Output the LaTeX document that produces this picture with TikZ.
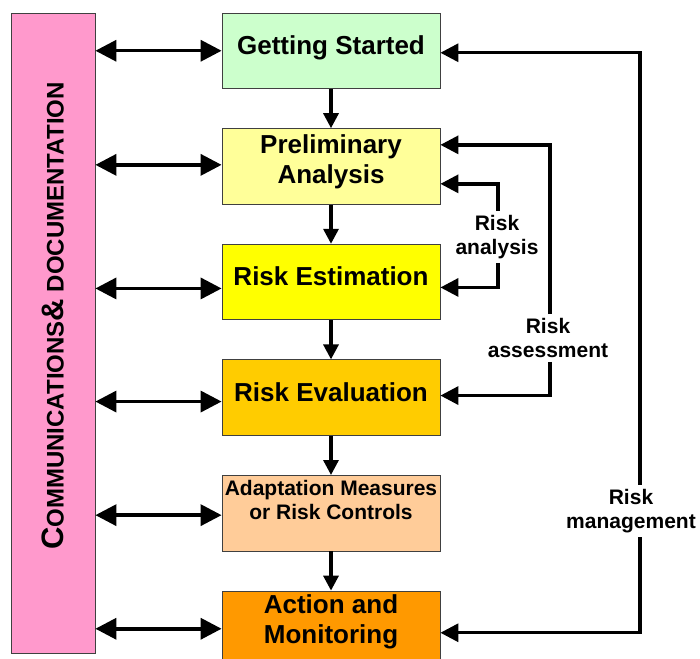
\documentclass[tikz,border=0pt]{standalone}
\usepackage{fontspec}
\setmainfont{Liberation Sans}
\usetikzlibrary{arrows.meta, positioning}

\definecolor{commpink}{HTML}{FF99CC}
\definecolor{startgreen}{HTML}{CCFFCC}
\definecolor{prelimyellow}{HTML}{FFFF99}
\definecolor{estyellow}{HTML}{FFFF00}
\definecolor{evalgold}{HTML}{FFCC00}
\definecolor{adaptpeach}{HTML}{FFCC99}
\definecolor{actionorange}{HTML}{FF9900}
\definecolor{boxline}{HTML}{404040}

\tikzset{every node/.style={align=center}}
\tikzset{stage/.style={draw=boxline, line width=0.8pt, minimum width=218pt, minimum height=75.5pt, inner sep=2pt, text depth=12pt, font=\bfseries\fontsize{26}{30}\selectfont}}
\tikzset{flow/.style={line width=3.3pt, -{Triangle[length=15pt, width=15pt]}}}
\tikzset{talk/.style={line width=3.5pt, {Triangle[length=21pt, width=21pt]}-{Triangle[length=21pt, width=21pt]}}}
\tikzset{feedback/.style={line width=3.3pt, -{Triangle[length=18pt, width=18pt]}}}
\tikzset{looplabel/.style={fill=white, inner sep=4pt, font=\bfseries\fontsize{21}{24}\selectfont}}

\begin{document}
\begin{tikzpicture}[x=1pt, y=-1pt, node distance=39.3pt]
	\useasboundingbox (0,0) rectangle (700,658);
	
	% Communications & documentation bar
	\node[draw=boxline, line width=0.8pt, fill=commpink, minimum width=84pt, minimum height=640pt, inner sep=0pt] (comm) at (53,333)
		{\rotatebox{90}{\bfseries\hspace*{34pt}{\fontsize{31}{31}\selectfont C}\fontsize{24}{24}\selectfont OMMUNICATIONS{\fontsize{31}{31}\selectfont\&} DOCUMENTATION}};
	
	% Stages
	\node[stage, fill=startgreen] (start) at (331,50.75) {Getting Started};
	\node[stage, fill=prelimyellow, below=of start, text depth=15pt] (prelim) {Preliminary\\Analysis};
	\node[stage, fill=estyellow, below=of prelim] (est) {Risk Estimation};
	\node[stage, fill=evalgold, below=of est, text depth=10pt] (eval) {Risk Evaluation};
	\node[stage, fill=adaptpeach, below=of eval, text depth=26pt, font=\bfseries\fontsize{21}{24}\selectfont] (adapt) {Adaptation Measures\\or Risk Controls};
	\node[stage, fill=actionorange, below=of adapt, text depth=19pt] (action) {Action and\\Monitoring};
	
	% Flow down
	\draw[flow] (start) -- (prelim);
	\draw[flow] (prelim) -- (est);
	\draw[flow] (est) -- (eval);
	\draw[flow] (eval) -- (adapt);
	\draw[flow] (adapt) -- (action);
	
	% Communication arrows
	\foreach \stg/\dy in {start/0, prelim/1.5, est/-6.5, eval/-4, adapt/-2, action/0}
		\draw[talk] ([yshift=\dy pt]\stg.west -| comm.east) -- ([yshift=\dy pt]\stg.west);
	
	% Loop labels
	\node[looplabel] (anl) at (497,237) {Risk\\analysis};
	\node[looplabel] (asm) at (548,338) {Risk\\assessment};
	\node[looplabel] (mgmt) at (631,511) {Risk\\management};
	\coordinate (anlx) at (498,0);
	\coordinate (asmx) at (550,0);
	\coordinate (mgx) at (640,0);
	
	% Feedback loops
	\draw[feedback] (anlx |- anl.north) |- ([yshift=-17.5pt]prelim.east);
	\draw[feedback] (anlx |- anl.south) |- ([yshift=-5.5pt]est.east);
	\draw[feedback] (asmx |- asm.north) |- ([yshift=21.5pt]prelim.east);
	\draw[feedback] (asmx |- asm.south) |- ([yshift=2pt]eval.east);
	\draw[feedback] (mgx |- mgmt.north) |- ([yshift=-2pt]start.east);
	\draw[feedback] (mgx |- mgmt.south) |- ([yshift=-4pt]action.east);
\end{tikzpicture}
\end{document}
